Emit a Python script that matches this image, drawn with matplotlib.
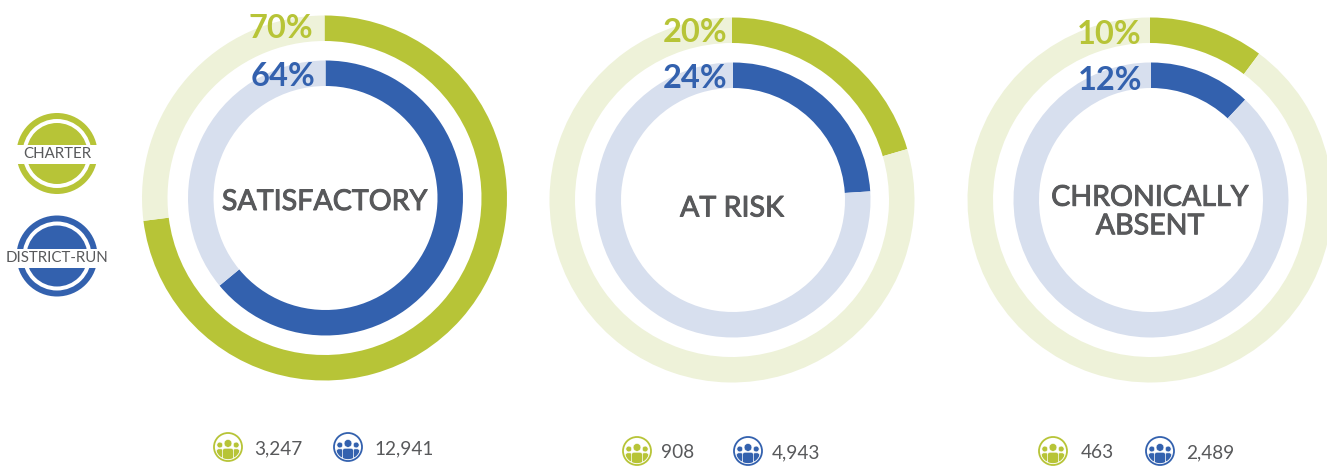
import matplotlib
matplotlib.use('Agg')
import matplotlib.pyplot as plt
import matplotlib.patheffects as pe
from matplotlib.patches import Circle, Rectangle, FancyBboxPatch

plt.rcParams['font.family'] = ['Lato', 'DejaVu Sans']

# values
labels = ['SATISFACTORY', 'AT RISK', 'CHRONICALLY\nABSENT']
charter_pct = [70, 20, 10]
district_pct = [64, 24, 12]
# the drawn arcs do not quite follow the printed labels
charter_arc = [73, 20.5, 10.2]
district_arc = [64, 24, 12]
charter_n = ['3,247', '908', '463']
district_n = ['12,941', '4,943', '2,489']

GREEN = '#b7c437'
GREEN_L = '#eef2d9'
BLUE = '#3361ae'
BLUE_L = '#d7dfee'
GREY = '#58595b'

W, H = 1327, 466
fig = plt.figure(figsize=(W / 100, H / 100), dpi=100)
ax = fig.add_axes([0, 0, 1, 1])


# picture coordinates, y measured from the top
def py(y):
    return H - y


def ring(cx, cy, pct, radius, color, light):
    ax.pie([pct, 100 - pct], colors=[color, light], startangle=90, counterclock=False,
           center=(cx, py(cy)), radius=radius,
           wedgeprops={'width': 25.5, 'linewidth': 0})


def badge(cx, cy, color, name, size, text_y):
    ax.add_patch(Circle((cx, py(cy)), 40.5, fc=color, ec='none'))
    ax.add_patch(Circle((cx, py(cy)), 34.5, fc='white', ec='none'))
    ax.add_patch(Circle((cx, py(cy)), 30.5, fc=color, ec='none'))
    ax.add_patch(Rectangle((cx - 42, py(text_y) - 9.5), 84, 19, fc='white', ec='none'))
    ax.text(cx, py(text_y + 0.5), name, color=GREY, fontsize=size, ha='center', va='center')


def people(cx, cy, color):
    ax.add_patch(Circle((cx, py(cy)), 14, fc='white', ec=color, lw=1.3))
    clip = Circle((cx, py(cy)), 12.2, transform=ax.transData)
    # side figures first, the middle one sits on top
    for dx, head_y, r, bw, bh in [(-8.2, -2, 2.9, 7, 9), (8.2, -2, 2.9, 7, 9), (0, -3.6, 3.9, 11, 12)]:
        ax.add_patch(Circle((cx + dx, py(cy + head_y)), r, fc=color, ec='white', lw=0.4))
        box = FancyBboxPatch((cx + dx - bw / 2, py(cy + head_y + r + 0.9 + bh)), bw, bh,
                             boxstyle='round,pad=0,rounding_size=2.5', fc=color, ec='white', lw=0.5)
        ax.add_patch(box)
        box.set_clip_path(clip)


centers = [(324.5, 198), (732, 200), (1150, 200)]
label_y = [202, 208.5, 212]
pct_x = [(281, 283), (695, 695), (1109, 1110)]
pct_y = [(29, 76), (33, 79), (34, 80)]
count_y = [447, 451, 451]
icon_x = [(228, 348), (637, 748), (1053, 1160)]
num_x = [(254, 374), (661, 772), (1081, 1186)]

for i in range(3):
    cx, cy = centers[i]
    ring(cx, cy, charter_arc[i], 182.5, GREEN, GREEN_L)
    ring(cx + 1, cy, district_arc[i], 137.5, BLUE, BLUE_L)
    ax.text(cx, py(label_y[i]), labels[i], color=GREY, fontsize=20.6, ha='center', va='center',
            linespacing=1.12, path_effects=[pe.withStroke(linewidth=0.7, foreground=GREY)])
    ax.text(pct_x[i][0], py(pct_y[i][0]), f'{charter_pct[i]}%', color=GREEN, fontsize=23.5,
            fontweight='bold', ha='center', va='center')
    ax.text(pct_x[i][1], py(pct_y[i][1]), f'{district_pct[i]}%', color=BLUE, fontsize=23.5,
            fontweight='bold', ha='center', va='center')
    people(icon_x[i][0], count_y[i], GREEN)
    people(icon_x[i][1], count_y[i], BLUE)
    ax.text(num_x[i][0], py(count_y[i] + 2), charter_n[i], color=GREY, fontsize=13.7, ha='left', va='center')
    ax.text(num_x[i][1], py(count_y[i] + 2), district_n[i], color=GREY, fontsize=13.7, ha='left', va='center')

badge(57, 153.5, GREEN, 'CHARTER', 10.8, 154)
badge(57, 256, BLUE, 'DISTRICT-RUN', 10.8, 258)

ax.set_xlim(0, W)
ax.set_ylim(0, H)
ax.set_aspect('equal')
ax.axis('off')
fig.savefig('out.png', dpi=100, facecolor='white')
